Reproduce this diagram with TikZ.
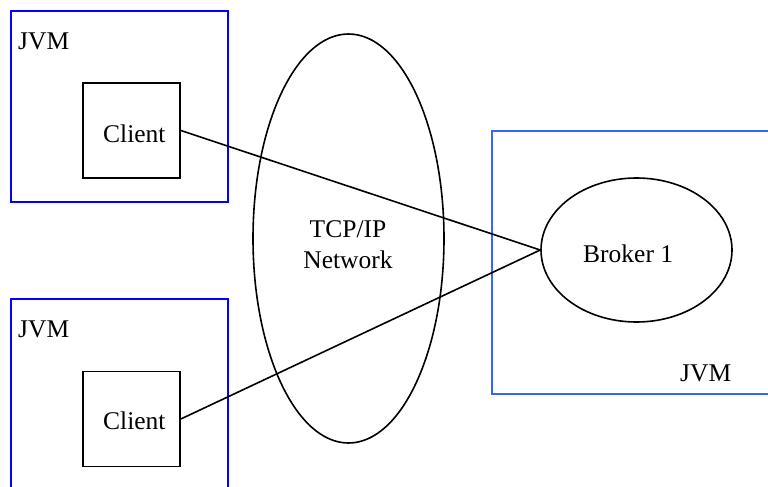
\documentclass[tikz,border=0pt]{standalone}
\usepackage{fontspec}
\setmainfont{Liberation Serif}
\usetikzlibrary{shapes.geometric}
\definecolor{jvmblue}{RGB}{0,0,255}
\definecolor{jvmlight}{RGB}{51,102,255}
\tikzset{
  jvmbox/.style={draw=jvmblue, line width=1.6pt, rectangle, inner sep=0pt},
  jvmboxlight/.style={draw=jvmlight, line width=1.6pt, rectangle, inner sep=0pt},
  clientbox/.style={draw=black, line width=1.6pt, rectangle, inner sep=0pt,
    minimum width=97pt, minimum height=95pt},
  oval/.style={draw=black, line width=1.6pt, ellipse, inner sep=0pt},
  lbl/.style={font=\fontsize{25.5}{31}\selectfont, inner sep=0pt, anchor=base west},
  link/.style={draw=black, line width=1.6pt}
}
\begin{document}
\begin{tikzpicture}[x=1pt, y=-1pt]
  \useasboundingbox (0,0) rectangle (768,487);
  \clip (0,0) rectangle (768,487);

  % JVM containers
  \node[jvmbox, minimum width=217pt, minimum height=191pt] (jvmA) at (119.5,106.5) {};
  \node[jvmbox, minimum width=217pt, minimum height=221pt] (jvmB) at (119.5,409.5) {};
  \node[jvmboxlight, minimum width=308pt, minimum height=263pt] (jvmC) at (646,262.5) {};

  \node[lbl] (jvmAlabel) at (18,49) {JVM};
  \node[lbl] (jvmBlabel) at (18,337) {JVM};
  \node[lbl] (jvmClabel) at (680,381) {JVM};

  % clients
  \node[clientbox] (client1) at (131.5,130.5) {};
  \node[clientbox] (client2) at (131.5,419) {};
  \node[lbl] (client1label) at (103,142) {Client};
  \node[lbl] (client2label) at (103,429) {Client};

  % network and broker (base anchor of a two-line label sits on its last line)
  \node[oval, minimum width=191pt, minimum height=409pt] (net) at (348.5,238.5) {};
  \node[lbl, anchor=base, align=center] (netlabel) at (348,268) {TCP/IP\\Network};
  \node[oval, minimum width=191pt, minimum height=144pt] (broker) at (636.5,250) {};
  \node[lbl] (brokerlabel) at (583,262) {Broker 1};

  % connections
  \draw[link] (client1.east) -- (broker.west);
  \draw[link] (client2.east) -- (broker.west);
\end{tikzpicture}
\end{document}
